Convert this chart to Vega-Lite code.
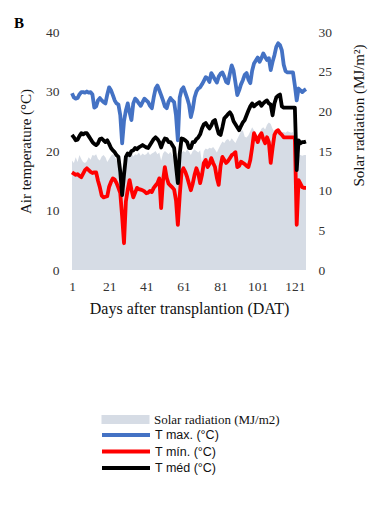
{
  "$schema": "https://vega.github.io/schema/vega-lite/v6.json",
  "width": 234,
  "height": 238,
  "autosize": "none",
  "padding": {"left": 72, "top": 32, "right": 76, "bottom": 235},
  "background": "white",
  "config": {"view": {"stroke": null}, "font": "Liberation Serif", "axisX": {"labelOverlap": false, "labelFlush": false}},
  "title": {"text": "B", "anchor": "start", "frame": "group", "dx": -58, "dy": 12, "offset": 6, "fontSize": 15, "fontWeight": "bold", "font": "Liberation Serif", "color": "black"},
  "data": {"values": [
    {"d":1,"r":13.8,"mx":29.7,"mn":16.4,"md":22.7},
    {"d":2,"r":13.5,"mx":29.0,"mn":16.2,"md":22.3},
    {"d":3,"r":14.2,"mx":28.8,"mn":16.0,"md":21.8},
    {"d":4,"r":13.6,"mx":28.9,"mn":16.1,"md":21.9},
    {"d":5,"r":14.5,"mx":29.5,"mn":15.8,"md":22.5},
    {"d":6,"r":14.0,"mx":29.9,"mn":15.6,"md":23.0},
    {"d":7,"r":13.6,"mx":29.9,"mn":16.2,"md":22.8},
    {"d":8,"r":13.5,"mx":29.8,"mn":16.8,"md":23.0},
    {"d":9,"r":13.7,"mx":30.0,"mn":17.1,"md":23.0},
    {"d":10,"r":14.2,"mx":29.8,"mn":16.8,"md":22.5},
    {"d":11,"r":13.9,"mx":29.9,"mn":16.5,"md":22.0},
    {"d":12,"r":14.5,"mx":29.5,"mn":16.3,"md":21.5},
    {"d":13,"r":14.4,"mx":27.3,"mn":16.4,"md":21.2},
    {"d":14,"r":14.6,"mx":27.5,"mn":16.4,"md":21.0},
    {"d":15,"r":14.0,"mx":28.5,"mn":15.0,"md":21.3},
    {"d":16,"r":13.8,"mx":28.9,"mn":13.9,"md":22.0},
    {"d":17,"r":14.3,"mx":28.5,"mn":12.5,"md":22.1},
    {"d":18,"r":14.5,"mx":28.2,"mn":12.2,"md":21.8},
    {"d":19,"r":14.2,"mx":28.0,"mn":12.3,"md":21.5},
    {"d":20,"r":13.6,"mx":29.5,"mn":12.4,"md":21.8},
    {"d":21,"r":14.0,"mx":30.7,"mn":14.0,"md":21.2},
    {"d":22,"r":14.4,"mx":30.2,"mn":14.8,"md":20.5},
    {"d":23,"r":14.6,"mx":29.4,"mn":15.4,"md":20.1},
    {"d":24,"r":14.3,"mx":28.5,"mn":15.2,"md":19.8},
    {"d":25,"r":13.8,"mx":28.0,"mn":14.6,"md":19.3},
    {"d":26,"r":13.5,"mx":27.8,"mn":13.8,"md":19.0},
    {"d":27,"r":12.5,"mx":26.0,"mn":12.9,"md":16.5},
    {"d":28,"r":10.0,"mx":21.3,"mn":9.0,"md":12.6},
    {"d":29,"r":11.0,"mx":25.0,"mn":4.5,"md":16.0},
    {"d":30,"r":13.5,"mx":26.8,"mn":11.5,"md":19.0},
    {"d":31,"r":14.2,"mx":28.0,"mn":13.5,"md":19.6},
    {"d":32,"r":14.5,"mx":26.5,"mn":15.1,"md":19.3},
    {"d":33,"r":14.8,"mx":25.2,"mn":13.5,"md":20.0},
    {"d":34,"r":14.3,"mx":28.0,"mn":12.2,"md":20.1},
    {"d":35,"r":14.6,"mx":28.8,"mn":13.0,"md":20.5},
    {"d":36,"r":14.5,"mx":28.5,"mn":13.8,"md":20.3},
    {"d":37,"r":14.8,"mx":28.0,"mn":13.6,"md":20.6},
    {"d":38,"r":14.4,"mx":27.6,"mn":13.5,"md":20.8},
    {"d":39,"r":14.7,"mx":28.2,"mn":13.4,"md":21.0},
    {"d":40,"r":14.5,"mx":28.8,"mn":13.2,"md":20.8},
    {"d":41,"r":14.6,"mx":28.5,"mn":12.9,"md":20.6},
    {"d":42,"r":14.9,"mx":28.2,"mn":13.0,"md":20.5},
    {"d":43,"r":14.5,"mx":27.6,"mn":13.3,"md":21.0},
    {"d":44,"r":14.7,"mx":27.2,"mn":13.1,"md":21.5},
    {"d":45,"r":14.8,"mx":29.0,"mn":13.8,"md":22.0},
    {"d":46,"r":15.0,"mx":30.5,"mn":14.2,"md":22.3},
    {"d":47,"r":14.6,"mx":31.0,"mn":14.6,"md":22.0},
    {"d":48,"r":14.8,"mx":30.2,"mn":15.4,"md":21.5},
    {"d":49,"r":13.8,"mx":29.4,"mn":10.4,"md":20.6},
    {"d":50,"r":14.7,"mx":28.5,"mn":15.0,"md":21.5},
    {"d":51,"r":15.0,"mx":27.5,"mn":17.3,"md":22.1},
    {"d":52,"r":14.8,"mx":27.2,"mn":15.5,"md":22.0},
    {"d":53,"r":14.6,"mx":28.3,"mn":14.5,"md":21.5},
    {"d":54,"r":14.9,"mx":28.9,"mn":14.2,"md":21.5},
    {"d":55,"r":14.5,"mx":28.5,"mn":13.9,"md":21.0},
    {"d":56,"r":14.2,"mx":28.2,"mn":13.5,"md":20.5},
    {"d":57,"r":12.5,"mx":26.0,"mn":11.7,"md":17.5},
    {"d":58,"r":11.0,"mx":21.8,"mn":7.6,"md":14.6},
    {"d":59,"r":13.5,"mx":29.0,"mn":12.5,"md":19.5},
    {"d":60,"r":14.8,"mx":30.3,"mn":16.5,"md":22.1},
    {"d":61,"r":15.0,"mx":30.7,"mn":17.1,"md":22.0},
    {"d":62,"r":14.8,"mx":29.8,"mn":16.5,"md":21.8},
    {"d":63,"r":15.2,"mx":28.9,"mn":15.6,"md":21.5},
    {"d":64,"r":14.9,"mx":27.8,"mn":14.5,"md":20.5},
    {"d":65,"r":14.5,"mx":25.7,"mn":13.4,"md":20.5},
    {"d":66,"r":15.0,"mx":27.0,"mn":14.5,"md":21.5},
    {"d":67,"r":15.2,"mx":29.0,"mn":16.0,"md":21.5},
    {"d":68,"r":15.0,"mx":30.0,"mn":17.1,"md":22.0},
    {"d":69,"r":14.8,"mx":30.5,"mn":16.2,"md":22.3},
    {"d":70,"r":15.1,"mx":30.7,"mn":14.6,"md":22.8},
    {"d":71,"r":13.5,"mx":31.2,"mn":16.0,"md":23.8},
    {"d":72,"r":15.0,"mx":31.8,"mn":18.0,"md":24.5},
    {"d":73,"r":15.3,"mx":32.4,"mn":18.5,"md":24.7},
    {"d":74,"r":15.2,"mx":32.2,"mn":17.3,"md":24.2},
    {"d":75,"r":15.4,"mx":31.6,"mn":17.8,"md":23.8},
    {"d":76,"r":15.3,"mx":33.1,"mn":18.8,"md":24.3},
    {"d":77,"r":15.5,"mx":32.6,"mn":18.0,"md":25.0},
    {"d":78,"r":15.2,"mx":32.0,"mn":17.3,"md":25.2},
    {"d":79,"r":14.8,"mx":31.5,"mn":15.5,"md":24.0},
    {"d":80,"r":15.3,"mx":32.5,"mn":14.3,"md":22.9},
    {"d":81,"r":15.8,"mx":33.0,"mn":17.5,"md":22.7},
    {"d":82,"r":16.2,"mx":33.2,"mn":19.0,"md":24.0},
    {"d":83,"r":16.0,"mx":32.5,"mn":18.5,"md":25.5},
    {"d":84,"r":16.4,"mx":31.6,"mn":18.0,"md":25.8},
    {"d":85,"r":16.5,"mx":31.4,"mn":18.3,"md":26.2},
    {"d":86,"r":16.2,"mx":33.0,"mn":18.8,"md":26.5},
    {"d":87,"r":16.6,"mx":34.4,"mn":19.3,"md":26.0},
    {"d":88,"r":16.3,"mx":33.5,"mn":19.5,"md":25.0},
    {"d":89,"r":16.0,"mx":31.5,"mn":19.8,"md":24.5},
    {"d":90,"r":16.5,"mx":29.4,"mn":17.3,"md":24.0},
    {"d":91,"r":17.0,"mx":30.2,"mn":17.5,"md":23.5},
    {"d":92,"r":17.5,"mx":31.2,"mn":18.2,"md":24.2},
    {"d":93,"r":17.6,"mx":31.9,"mn":18.0,"md":24.8},
    {"d":94,"r":16.8,"mx":32.8,"mn":17.8,"md":25.2},
    {"d":95,"r":16.7,"mx":33.1,"mn":17.5,"md":26.0},
    {"d":96,"r":17.0,"mx":32.0,"mn":17.3,"md":26.8},
    {"d":97,"r":17.5,"mx":31.4,"mn":18.5,"md":27.5},
    {"d":98,"r":18.0,"mx":33.5,"mn":20.6,"md":28.0},
    {"d":99,"r":17.6,"mx":34.7,"mn":23.0,"md":27.5},
    {"d":100,"r":17.2,"mx":35.2,"mn":22.3,"md":27.8},
    {"d":101,"r":16.7,"mx":35.7,"mn":21.5,"md":28.0},
    {"d":102,"r":17.3,"mx":35.0,"mn":22.5,"md":28.2},
    {"d":103,"r":17.8,"mx":35.6,"mn":23.0,"md":27.6},
    {"d":104,"r":18.0,"mx":36.4,"mn":22.0,"md":28.0},
    {"d":105,"r":17.7,"mx":35.8,"mn":21.3,"md":28.3},
    {"d":106,"r":18.3,"mx":35.3,"mn":22.3,"md":28.5},
    {"d":107,"r":18.6,"mx":35.6,"mn":21.5,"md":28.0},
    {"d":108,"r":18.4,"mx":33.6,"mn":18.0,"md":27.8},
    {"d":109,"r":17.8,"mx":35.0,"mn":20.5,"md":26.0},
    {"d":110,"r":17.4,"mx":36.1,"mn":22.7,"md":28.0},
    {"d":111,"r":17.5,"mx":37.5,"mn":23.3,"md":29.0},
    {"d":112,"r":17.3,"mx":38.1,"mn":23.5,"md":29.3},
    {"d":113,"r":17.6,"mx":37.8,"mn":23.0,"md":29.5},
    {"d":114,"r":17.4,"mx":36.9,"mn":22.7,"md":27.5},
    {"d":115,"r":17.4,"mx":34.5,"mn":22.3,"md":27.3},
    {"d":116,"r":17.3,"mx":33.4,"mn":22.3,"md":27.3},
    {"d":117,"r":17.5,"mx":33.2,"mn":22.3,"md":27.3},
    {"d":118,"r":17.4,"mx":33.2,"mn":22.3,"md":27.3},
    {"d":119,"r":17.3,"mx":33.2,"mn":22.3,"md":27.3},
    {"d":120,"r":17.4,"mx":33.2,"mn":22.3,"md":27.3},
    {"d":121,"r":16.0,"mx":31.0,"mn":22.3,"md":27.3},
    {"d":122,"r":14.5,"mx":28.5,"mn":7.6,"md":16.8},
    {"d":123,"r":14.6,"mx":30.5,"mn":15.1,"md":21.8},
    {"d":124,"r":14.5,"mx":30.2,"mn":14.5,"md":21.3},
    {"d":125,"r":14.4,"mx":29.9,"mn":13.9,"md":21.5},
    {"d":126,"r":14.5,"mx":30.2,"mn":13.8,"md":21.5},
    {"d":127,"r":14.5,"mx":30.4,"mn":13.8,"md":21.6}
  ]},
  "layer": [
    {
      "mark": {"type": "area", "interpolate": "linear"},
      "encoding": {
        "x": {"field": "d", "type": "quantitative", "scale": {"domain": [1, 127], "nice": false, "zero": false},
              "axis": {"values": [1, 21, 41, 61, 81, 101, 121], "ticks": false, "domain": false, "grid": false, "labelOverlap": false, "labelPadding": 9, "labelFont": "Liberation Serif", "labelFontSize": 13.5, "labelColor": "#333333", "labelFlush": false,
                       "title": "Days after transplantion (DAT)", "titleFont": "Liberation Serif", "titleFontSize": 16, "titleFontWeight": "normal", "titleColor": "#111111", "titlePadding": 8}},
        "y": {"field": "r", "type": "quantitative", "scale": {"domain": [0, 30], "nice": false},
              "axis": {"orient": "right", "values": [0, 5, 10, 15, 20, 25, 30], "ticks": false, "domain": false, "grid": false, "labelOverlap": false, "labelPadding": 12, "labelFont": "Liberation Serif", "labelFontSize": 13.5, "labelColor": "#333333",
                       "title": "Solar radiation (MJ/m²)", "titleAngle": 270, "titleFont": "Liberation Serif", "titleFontSize": 15, "titleFontWeight": "normal", "titleColor": "#111111", "titleX": 52, "titleY": 83, "titleAlign": "center", "titleBaseline": "middle"}},
        "fill": {"datum": "Solar radiation (MJ/m2)", "scale": {"range": ["#D6DCE5"]},
                 "legend": {"orient": "none", "legendX": 47, "legendY": 381, "title": null, "padding": 0, "symbolType": "M-4.8,-0.9H4.8V0.9H-4.8Z", "symbolSize": 100, "symbolStrokeWidth": 0, "symbolOpacity": 1, "labelFont": "Liberation Serif", "labelFontSize": 13, "labelColor": "#111111", "labelOffset": 22}}
      }
    },
    {
      "encoding": {
        "x": {"field": "d", "type": "quantitative",
              "axis": {"values": [1, 21, 41, 61, 81, 101, 121], "ticks": false, "domain": false, "grid": false, "labelOverlap": false, "labelPadding": 9, "labelFont": "Liberation Serif", "labelFontSize": 13.5, "labelColor": "#333333", "labelFlush": false,
                       "title": "Days after transplantion (DAT)", "titleFont": "Liberation Serif", "titleFontSize": 16, "titleFontWeight": "normal", "titleColor": "#111111", "titlePadding": 8}}
      },
      "layer": [
        {
          "mark": {"type": "line", "strokeWidth": 3.8, "strokeJoin": "round"},
          "encoding": {
            "y": {"field": "mx", "type": "quantitative", "scale": {"domain": [0, 40], "nice": false},
                  "axis": {"orient": "left", "values": [0, 10, 20, 30, 40], "ticks": false, "domain": false, "grid": false, "labelOverlap": false, "labelPadding": 13, "labelFont": "Liberation Serif", "labelFontSize": 13.5, "labelColor": "#333333",
                           "title": "Air temperature (°C)", "titleFont": "Liberation Serif", "titleFontSize": 15, "titleFontWeight": "normal", "titleColor": "#111111", "titlePadding": 12}},
            "stroke": {"datum": "T max. (°C)", "scale": {"domain": ["T max. (°C)", "T mín. (°C)", "T méd (°C)"], "range": ["#4472C4", "#FF0000", "#000000"]},
                       "legend": {"orient": "none", "legendX": 47, "legendY": 396, "title": null, "padding": 0, "rowPadding": 0.5, "symbolType": "M-4.8,0L4.8,0", "symbolSize": 100, "symbolStrokeWidth": 3.8, "labelFont": "Liberation Sans", "labelFontSize": 12.5, "labelColor": "#111111", "labelOffset": 22}}
          }
        },
        {
          "mark": {"type": "line", "strokeWidth": 3.8, "strokeJoin": "round"},
          "encoding": {
            "y": {"field": "mn", "type": "quantitative"},
            "stroke": {"datum": "T mín. (°C)"}
          }
        },
        {
          "mark": {"type": "line", "strokeWidth": 3.8, "strokeJoin": "round"},
          "encoding": {
            "y": {"field": "md", "type": "quantitative"},
            "stroke": {"datum": "T méd (°C)"}
          }
        }
      ]
    }
  ],
  "resolve": {"scale": {"y": "independent"}}
}
